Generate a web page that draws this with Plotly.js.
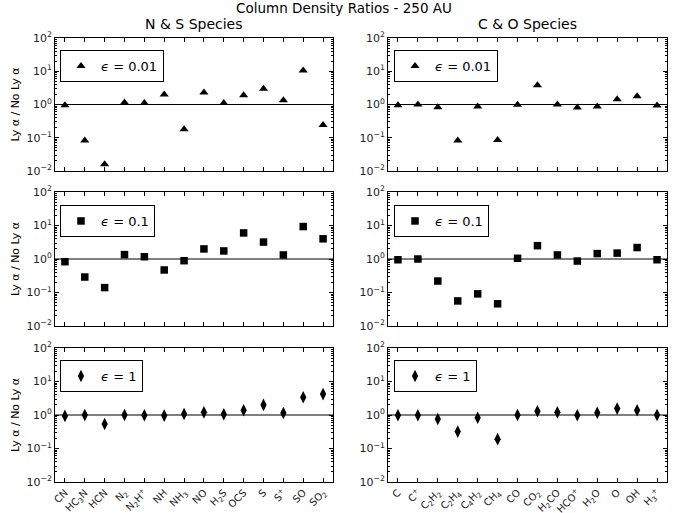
<!DOCTYPE html>
<html><head><meta charset="utf-8">
<script src="https://cdn.plot.ly/plotly-3.0.1.min.js"></script>
<style>body{margin:0;padding:0;}#plot{width:688px;height:513px;}</style>
</head><body><div id="plot"></div>
<script>
// Categories
const nsSpecies = ['CN','HC3N','HCN','N2','N2H+','NH','NH3','NO','H2S','OCS','S','S+','SO','SO2'];
const nsLabels = ['CN','HC<sub>3</sub>N','HCN','N<sub>2</sub>','N<sub>2</sub>H<sup>+</sup>','NH','NH<sub>3</sub>','NO','H<sub>2</sub>S','OCS','S','S<sup>+</sup>','SO','SO<sub>2</sub>'];
const coSpecies = ['C','C+','C2H2','C2H4','C4H2','CH4','CO','CO2','H2CO','HCO+','H2O','O','OH','H3+'];
const coLabels = ['C','C<sup>+</sup>','C<sub>2</sub>H<sub>2</sub>','C<sub>2</sub>H<sub>4</sub>','C<sub>4</sub>H<sub>2</sub>','CH<sub>4</sub>','CO','CO<sub>2</sub>','H<sub>2</sub>CO','HCO<sup>+</sup>','H<sub>2</sub>O','O','OH','H<sub>3</sub><sup>+</sup>'];

// Y ticks
const yTickVals = [0.01, 0.1, 1, 10, 100];
const yTickText = ['10<sup>−2</sup>','10<sup>−1</sup>','10<sup>0</sup>','10<sup>1</sup>','10<sup>2</sup>'];
const yMinorVals = [0.02,0.03,0.04,0.05,0.06,0.07,0.08,0.09,
                    0.2,0.3,0.4,0.5,0.6,0.7,0.8,0.9,
                    2,3,4,5,6,7,8,9,
                    20,30,40,50,60,70,80,90];

// Ratios (Ly alpha / No Ly alpha)
const ns_eps001 = [0.95,0.083,0.016,1.15,1.1,2.0,0.18,2.3,1.1,1.9,3.0,1.35,10.5,0.24];
const ns_eps01  = [0.83,0.29,0.14,1.35,1.17,0.47,0.89,2.0,1.74,6.0,3.2,1.32,9.3,4.0];
const ns_eps1   = [0.94,1.0,0.54,1.0,0.98,0.96,1.07,1.2,1.05,1.38,2.0,1.15,3.4,4.2];
const co_eps001 = [0.95,1.0,0.83,0.083,0.87,0.085,0.98,3.8,1.0,0.81,0.87,1.45,1.78,0.93];
const co_eps01  = [0.95,1.0,0.22,0.056,0.091,0.046,1.05,2.5,1.32,0.87,1.45,1.5,2.2,0.95];
const co_eps1   = [0.98,0.98,0.76,0.32,0.83,0.19,1.0,1.3,1.2,0.98,1.17,1.55,1.38,1.0];

const epsNames = ['<i>ϵ</i> = 0.01','<i>ϵ</i> = 0.1','<i>ϵ</i> = 1'];
const symbols = ['triangle-up','square','diamond-tall'];
const sizes = [8,7.5,9];

const FONT = 'DejaVu Sans, sans-serif';
const W = 688, H = 513;
const xdomL = [55/W, 333/W], xdomR = [388/W, 667/W];
const ydoms = [[1-171/H, 1-38/H],[1-326/H, 1-192/H],[1-482/H, 1-348/H]];
const legPos = [[60,50],[60,205],[60,360],[394,50],[394,205],[394,360]];

const panels = [
  {x: nsSpecies, y: ns_eps001, col:0, row:0},
  {x: nsSpecies, y: ns_eps01, col:0, row:1},
  {x: nsSpecies, y: ns_eps1, col:0, row:2},
  {x: coSpecies, y: co_eps001, col:1, row:0},
  {x: coSpecies, y: co_eps01, col:1, row:1},
  {x: coSpecies, y: co_eps1, col:1, row:2},
];

const data = [];
const layout = {
  width: W, height: H,
  margin: {l:0, r:0, t:0, b:0},
  paper_bgcolor: 'white', plot_bgcolor: 'white',
  font: {family: FONT, size: 11, color: 'black'},
  title: {text: 'Column Density Ratios - 250 AU', x: 0.5, xanchor: 'center', y: 1-8/H, yanchor: 'middle', font: {size: 13.5, family: FONT}},
  shapes: [], annotations: [],
  showlegend: true,
};

panels.forEach((p, i) => {
  const n = i + 1;
  const xa = 'xaxis' + (n === 1 ? '' : n), ya = 'yaxis' + (n === 1 ? '' : n);
  const xr = 'x' + (n === 1 ? '' : n), yr = 'y' + (n === 1 ? '' : n);
  const leg = 'legend' + (n === 1 ? '' : n);
  data.push({
    type: 'scatter', mode: 'markers', x: p.x, y: p.y, xaxis: xr, yaxis: yr,
    name: epsNames[p.row], legend: leg,
    marker: {symbol: symbols[p.row], size: sizes[p.row], color: 'black', line: {width: 0}},
    hoverinfo: 'x+y'
  });
  const labels = p.col === 0 ? nsLabels : coLabels;
  layout[xa] = {
    domain: p.col === 0 ? xdomL : xdomR, anchor: yr, type: 'category',
    range: [-0.5, 13.5], tickvals: p.x, ticktext: labels,
    showticklabels: p.row === 2, tickangle: -45,
    ticks: 'inside', ticklen: 4, tickcolor: 'black', showline: true, linecolor: 'black', linewidth: 1, mirror: 'ticks',
    showgrid: false, zeroline: false, automargin: false, tickfont: {size: 10, family: FONT, color: '#222'}
  };
  layout[ya] = {
    domain: ydoms[p.row], anchor: xr, type: 'log', range: [-2, 2],
    tickmode: 'array', tickvals: yTickVals, ticktext: yTickText,
    ticks: 'inside', ticklen: 4, tickcolor: 'black', showline: true, linecolor: 'black', linewidth: 1, mirror: 'ticks',
    minor: {tickmode: 'array', tickvals: yMinorVals, ticks: 'inside', ticklen: 2, tickcolor: 'black', tickwidth: 1, showgrid: false},
    showgrid: false, zeroline: false, automargin: false, tickfont: {size: 11, family: FONT, color: '#222'},
    title: p.col === 0 ? {text: 'Ly α / No Ly α', font: {size: 11, family: FONT}, standoff: 4} : {text: ''}
  };
  const lp = legPos[i];
  layout[leg] = {
    x: lp[0]/W, y: 1 - lp[1]/H, xanchor: 'left', yanchor: 'top',
    bgcolor: 'white', bordercolor: 'black', borderwidth: 1,
    font: {size: 13, family: FONT}
  };
  layout.shapes.push({type: 'line', xref: xr + ' domain', yref: yr, x0: 0, x1: 1, y0: 1, y1: 1, line: {color: 'black', width: 1.2}, layer: 'below'});
});

layout.annotations.push({text: 'N & S Species', xref: 'paper', yref: 'paper', x: (xdomL[0]+xdomL[1])/2, y: 1-24/H, xanchor: 'center', yanchor: 'middle', showarrow: false, font: {size: 14, family: FONT}});
layout.annotations.push({text: 'C & O Species', xref: 'paper', yref: 'paper', x: (xdomR[0]+xdomR[1])/2, y: 1-24/H, xanchor: 'center', yanchor: 'middle', showarrow: false, font: {size: 14, family: FONT}});

Plotly.newPlot('plot', data, layout, {staticPlot: true, displayModeBar: false});
</script>
</body></html>
